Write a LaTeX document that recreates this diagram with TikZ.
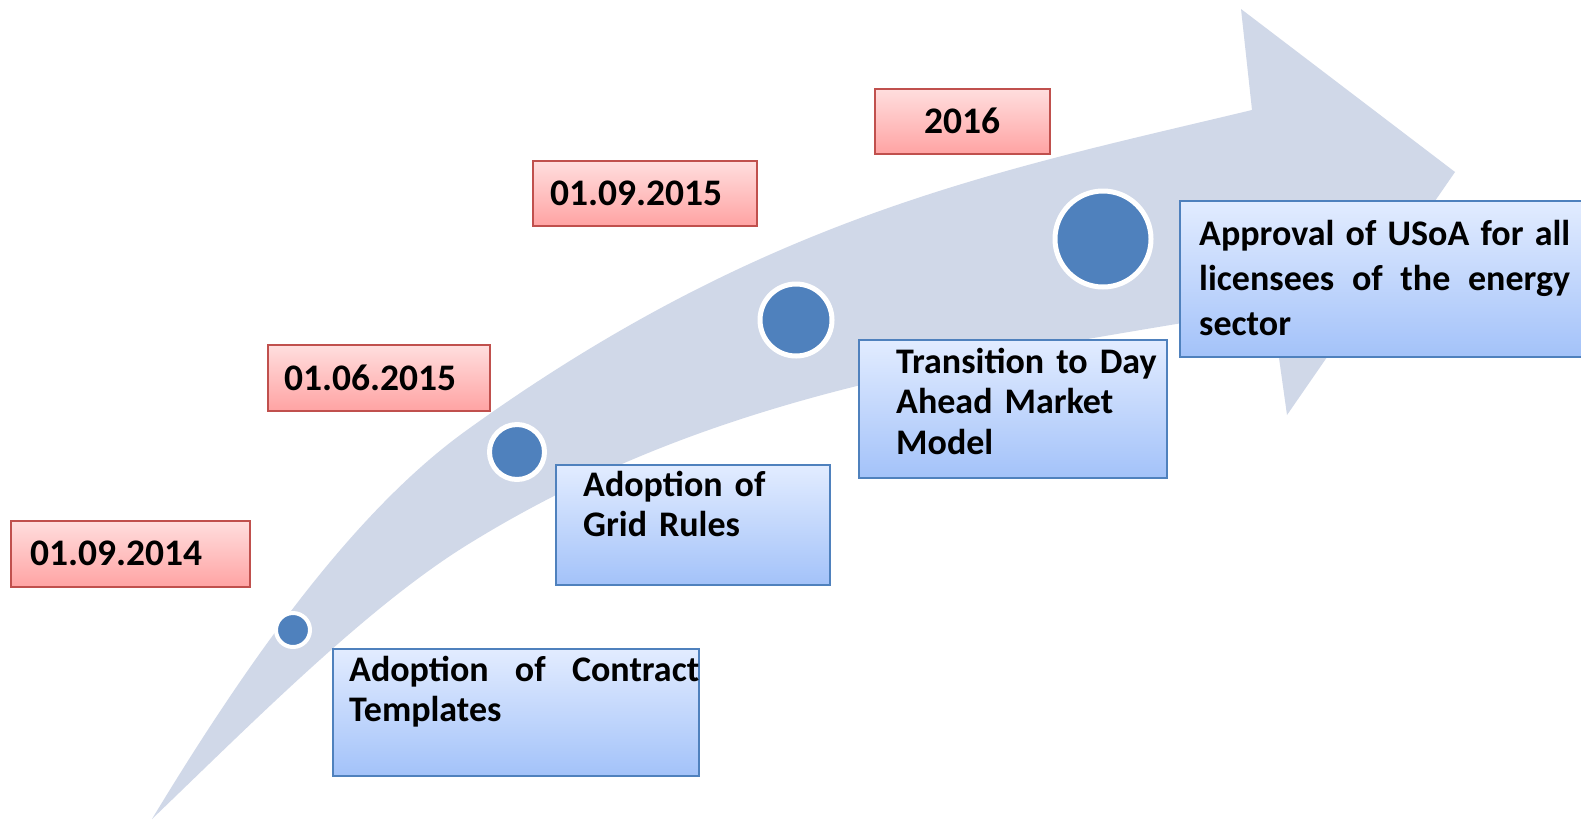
\documentclass[tikz,border=0pt]{standalone}
\usepackage{fontspec}
\setmainfont{Carlito}
\definecolor{arrowgray}{HTML}{D0D8E8}
\definecolor{dotblue}{HTML}{4F81BD}
\definecolor{redline}{HTML}{C0504D}
\definecolor{redtop}{HTML}{FFDEDE}
\definecolor{redbot}{HTML}{FFA3A3}
\definecolor{bluetop}{HTML}{E2ECFF}
\definecolor{bluebot}{HTML}{A3C2F9}
\definecolor{blueline}{HTML}{4F81BD}
\tikzset{
  datebox/.style={draw=redline, line width=2pt, top color=redtop, bottom color=redbot, inner sep=0pt, anchor=north west},
  stepbox/.style={draw=blueline, line width=2pt, top color=bluetop, bottom color=bluebot, inner sep=0pt, anchor=north west},
  datetext/.style={anchor=base west, inner sep=0pt, font=\fontsize{37.5}{42}\selectfont\bfseries},
  steptext/.style={anchor=base west, inner sep=0pt, align=left, font=\fontsize{36}{40.5}\selectfont\bfseries},
  milestone/.style={circle, fill=dotblue, draw=white, inner sep=0pt}
}
\begin{document}
\begin{tikzpicture}[x=1pt,y=-1pt]
\useasboundingbox (0,0) rectangle (1581,820);
\clip (0,0) rectangle (1581,820);
\fill[white] (0,0) rectangle (1581,820);
% curved arrow
\fill[arrowgray] (152,819) .. controls (253,652) and (357,509) .. (467,430)
  .. controls (767,214) and (1002,170) .. (1252,110)
  -- (1241,9) -- (1455,172) -- (1287,415) -- (1272,308)
  .. controls (972,359) and (717,390) .. (467,545)
  .. controls (367,607) and (253,722) .. (152,819) -- cycle;
% milestones
\node[milestone, line width=4pt, minimum size=34pt] (m1) at (293,630) {};
\node[milestone, line width=5pt, minimum size=55pt] (m2) at (517,452) {};
\node[milestone, line width=5pt, minimum size=72pt] (m3) at (796,320) {};
\node[milestone, line width=5pt, minimum size=96pt] (m4) at (1103,239) {};
% date boxes
\node[datebox, minimum width=239pt, minimum height=66pt] (d1) at (10,520) {};
\node[datetext] (t1) at (30,565) {01.09.2014};
\node[datebox, minimum width=222pt, minimum height=66pt] (d2) at (267,344) {};
\node[datetext] (t2) at (284,390) {01.06.2015};
\node[datebox, minimum width=224pt, minimum height=65pt] (d3) at (532,160) {};
\node[datetext] (t3) at (550,205) {01.09.2015};
\node[datebox, minimum width=175pt, minimum height=65pt] (d4) at (874,88) {};
\node[datetext] (t4) at (924,133) {2016};
% step boxes
\node[stepbox, minimum width=366pt, minimum height=127pt] (s1) at (332,648) {};
\node[steptext, text width=350pt] (u1) at (349,681) {\makebox[350pt][l]{Adoption\hfill of\hfill Contract}\\Templates};
\node[stepbox, minimum width=274pt, minimum height=120pt] (s2) at (555,464) {};
\node[steptext, text width=240pt] (u2) at (583,496) {Adoption of\\Grid Rules};
\node[stepbox, minimum width=308pt, minimum height=138pt] (s3) at (858,339) {};
\node[steptext, text width=268pt] (u3) at (896,373) {Transition to Day\\Ahead Market\\Model};
\node[stepbox, minimum width=430pt, minimum height=156pt] (s4) at (1179,200) {};
\node[steptext, text width=371pt, font=\fontsize{36}{45}\selectfont\bfseries] (u4) at (1199,245) {\makebox[371pt][l]{Approval\hfill of\hfill USoA\hfill for\hfill all}\\\makebox[371pt][l]{licensees\hfill of\hfill the\hfill energy}\\sector};
\end{tikzpicture}
\end{document}
